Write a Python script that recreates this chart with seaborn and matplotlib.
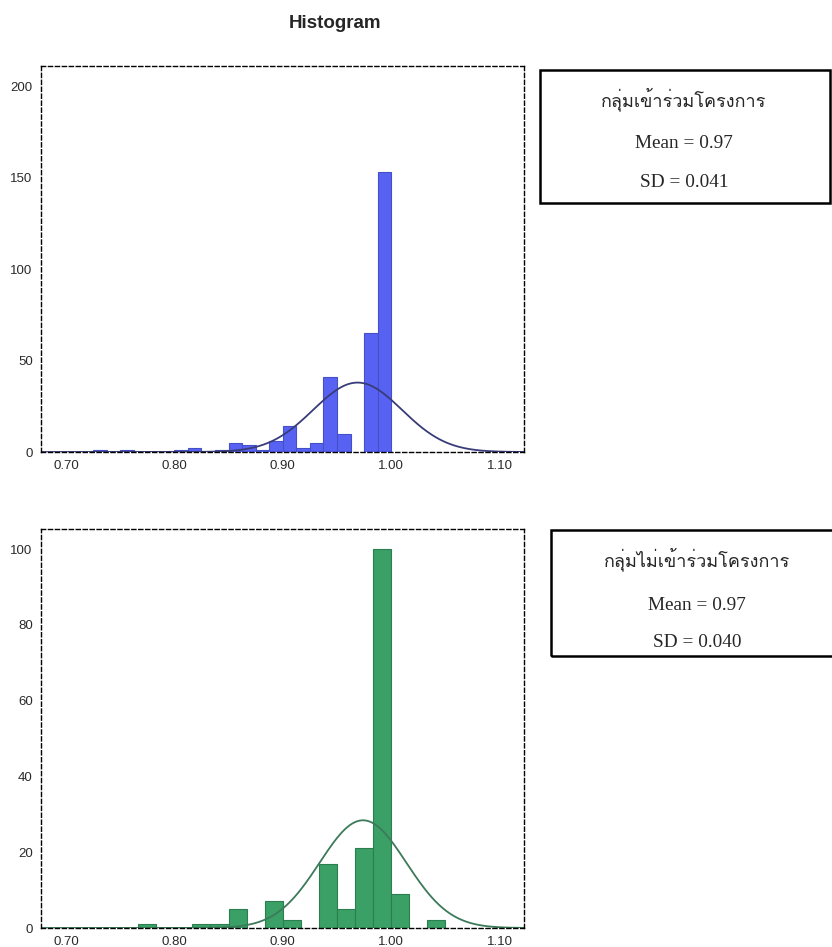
import numpy as np
import pandas as pd
import matplotlib
matplotlib.use("Agg")
import matplotlib.pyplot as plt
import seaborn as sns
from matplotlib import font_manager
from matplotlib.ft2font import FT2Font
from matplotlib.patches import Rectangle

# ---- data ----
# top panel (participants), bin width 0.0125
top_left = [0.725, 0.75, 0.80, 0.8125, 0.8375, 0.85, 0.8625, 0.875, 0.8875,
            0.90, 0.9125, 0.925, 0.9375, 0.95, 0.975, 0.9875]
top_counts = [1, 1, 1, 2, 1, 5, 4, 1, 6, 14, 2, 5, 41, 10, 65, 153]
top_mean, top_sd = 0.969, 0.041

# bottom panel (non participants), bin width 1/60
bot_left = [0.7667, 0.8167, 0.8333, 0.85, 0.8833, 0.90, 0.9333, 0.95,
            0.9667, 0.9833, 1.00, 1.0333]
bot_counts = [1, 1, 1, 5, 7, 2, 17, 5, 21, 100, 9, 2]
bot_mean, bot_sd = 0.974, 0.040

x_ticks = [0.70, 0.80, 0.90, 1.00, 1.10]
top_yticks = [0, 50, 100, 150, 200]
bot_yticks = [0, 20, 40, 60, 80, 100]

top_label = ["กลุ่มเข้าร่วมโครงการ", "Mean = 0.97", "SD = 0.041"]
bot_label = ["กลุ่มไม่เข้าร่วมโครงการ", "Mean = 0.97", "SD = 0.040"]


def find_thai_font():
    # pick any installed font that actually has Thai glyphs
    for f in font_manager.fontManager.ttflist:
        try:
            cmap = FT2Font(f.fname).get_charmap()
        except Exception:
            continue
        if 0x0E01 in cmap and 0x0E21 in cmap:
            return f.name
    return "DejaVu Sans"


sns.set_style("white")
plt.rcParams["font.family"] = ["Liberation Sans", "DejaVu Sans"]
thai_font = find_thai_font()

fig = plt.figure(figsize=(8.32, 9.47), dpi=100)
ax_top = fig.add_axes([41 / 832, 1 - 452 / 947, 483 / 832, 386 / 947])
ax_bot = fig.add_axes([41 / 832, 1 - 928 / 947, 483 / 832, 399 / 947])


def draw_panel(ax, left, counts, width, lo_k, hi_k, color, edge, mean, sd,
               line_color, ylim, yticks):
    edges = [1.0 + k * width for k in range(lo_k, hi_k + 1)]
    df = pd.DataFrame({"x": np.array(left) + width / 2, "n": counts})
    sns.histplot(data=df, x="x", weights="n", bins=edges, ax=ax, color=color,
                 edgecolor=edge, linewidth=0.8, alpha=1.0)
    for p in list(ax.patches):
        if p.get_height() == 0:
            p.remove()
    n = sum(counts)
    xs = np.linspace(0.677, 1.1225, 400)
    ys = n * width * np.exp(-0.5 * ((xs - mean) / sd) ** 2) / (sd * np.sqrt(2 * np.pi))
    sns.lineplot(x=xs, y=ys, ax=ax, color=line_color, linewidth=1.3)
    ax.set_xlim(0.677, 1.1225)
    ax.set_ylim(*ylim)
    ax.set_xticks(x_ticks)
    ax.set_xticklabels([f"{t:.2f}" for t in x_ticks])
    ax.set_yticks(yticks)
    ax.set_xlabel("")
    ax.set_ylabel("")
    ax.tick_params(axis="both", direction="out", length=5.5, width=1,
                   labelsize=9.5, labelcolor="#2a2a2a", color="black", pad=0.5)
    for s in ax.spines.values():
        s.set_visible(True)
        s.set_linestyle((0, (3, 2)))
        s.set_linewidth(1.0)
        s.set_color("black")


draw_panel(ax_top, top_left, top_counts, 0.0125, -24, 4, "#5862f2", "#4550c8",
           top_mean, top_sd, "#383c78", (0, 211), top_yticks)
draw_panel(ax_bot, bot_left, bot_counts, 1 / 60, -18, 4, "#3aa066", "#2c7d4f",
           bot_mean, bot_sd, "#3c7a5a", (0, 105.3), bot_yticks)

fig.text(335 / 832, 1 - 27.5 / 947, "Histogram", ha="center", va="baseline",
         fontsize=13.5, fontweight="bold", family=["Liberation Sans", "DejaVu Sans"])

# info boxes on the right
fig.add_artist(Rectangle((540 / 832, 1 - 203 / 947), 290 / 832, 133 / 947,
                         transform=fig.transFigure, fill=False,
                         edgecolor="black", linewidth=1.8))
fig.add_artist(Rectangle((551 / 832, 1 - 656 / 947), 300 / 832, 126 / 947,
                         transform=fig.transFigure, fill=False,
                         edgecolor="black", linewidth=1.8, clip_on=False))

for (xc, ys), lines in [((684 / 832, [106, 148.3, 186.7]), top_label),
                        ((697 / 832, [566.7, 610, 646.7]), bot_label)]:
    fig.text(xc, 1 - ys[0] / 947, lines[0], ha="center", va="baseline",
             fontsize=13, family=[thai_font, "DejaVu Sans"])
    for y, t in zip(ys[1:], lines[1:]):
        fig.text(xc, 1 - y / 947, t, ha="center", va="baseline", fontsize=13.9,
                 family=["Liberation Serif", "DejaVu Serif"])

fig.savefig("out.png", dpi=100)
